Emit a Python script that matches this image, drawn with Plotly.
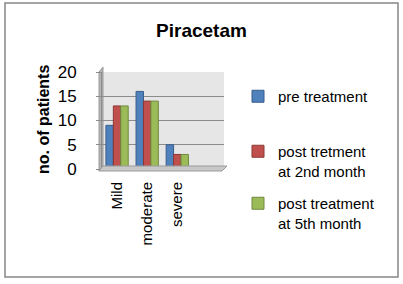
import plotly.graph_objects as go

categories = ["Mild", "moderate", "severe"]
pre_treatment = [9, 16, 5]
post_2nd_month = [13, 14, 3]
post_5th_month = [13, 14, 3]
series_names = ["pre treatment", "post tretment<br>at 2nd month", "post treatment<br>at 5th month"]
y_ticks = [0, 5, 10, 15, 20]

W, H = 403, 284
L, R, T, B = 102, 224, 72, 169


def px(x):
    return (x - L) / (R - L)


def py(y):
    return (B - y) / (B - T)


fill = ["#4f81bd", "#c0504d", "#9bbb59"]
edge = ["#385d8a", "#8c3836", "#71893f"]
values = [pre_treatment, post_2nd_month, post_5th_month]
legend_tops = [80, 135, 187]

fig = go.Figure()
for i, (name, vals) in enumerate(zip(series_names, values)):
    lg = "legend" if i == 0 else f"legend{i+1}"
    fig.add_trace(go.Bar(
        x=categories, y=vals, name=name,
        marker=dict(color=fill[i], line=dict(color=edge[i], width=1)),
        legend=lg,
    ))

font = "Liberation Sans"
legend_common = dict(
    xref="container", yref="container", xanchor="left", yanchor="top",
    bgcolor="rgba(0,0,0,0)", font=dict(family=font, size=15, color="#000"),
    itemwidth=30, tracegroupgap=0, valign="top",
)
layout_legends = {}
for i, top in enumerate(legend_tops):
    key = "legend" if i == 0 else f"legend{i+1}"
    layout_legends[key] = dict(legend_common, x=238 / W, y=1 - top / H)

fig.update_layout(
    width=W, height=H,
    margin=dict(l=L, r=W - R, t=T, b=H - B),
    paper_bgcolor="white", plot_bgcolor="#e6e6e6",
    barmode="group", bargap=0.26, bargroupgap=0,
    showlegend=True,
    title=dict(text="<b>Piracetam</b>", x=0.5, xref="container", xanchor="center",
               y=1 - 30 / H, yref="container", yanchor="middle",
               font=dict(family=font, size=19, color="#000")),
    xaxis=dict(type="category", range=[-0.5, 3.55], tickangle=-90,
               tickfont=dict(family=font, size=15, color="#000"),
               showgrid=False, showline=True, linecolor="#a0a0a0",
               ticks="", ticklabelstandoff=6),
    yaxis=dict(range=[0, 20], tickvals=y_ticks, tickfont=dict(family=font, size=17, color="#000"),
               showgrid=True, gridcolor="#8c8c8c", gridwidth=1,
               showline=True, linecolor="#8c8c8c", ticks="outside", ticklen=5,
               tickcolor="#8c8c8c", ticklabelstandoff=16, zeroline=False),
    **layout_legends,
)

fig.add_annotation(text="<b>no. of patients</b>", textangle=-90,
                   x=px(43), y=py(120), xref="paper", yref="paper",
                   xanchor="center", yanchor="middle",
                   showarrow=False, font=dict(family=font, size=16, color="#000"))

# 3D-style floor and side wall
fig.add_shape(type="path", xref="paper", yref="paper",
              path=f"M {px(99)},{py(171)} L {px(222)},{py(171)} L {px(227)},{py(166)} L {px(103)},{py(166)} Z",
              fillcolor="#c8c8c8", line=dict(color="#9a9a9a", width=1), layer="above")
fig.add_shape(type="path", xref="paper", yref="paper",
              path=f"M {px(99)},{py(171)} L {px(99)},{py(72)} L {px(103)},{py(67)} L {px(103)},{py(166)} Z",
              fillcolor="#b4b4b4", line=dict(color="#9a9a9a", width=1), layer="below")

# chart border
fig.add_shape(type="rect", xref="paper", yref="paper",
              x0=px(5), x1=px(398), y0=py(277), y1=py(3),
              line=dict(color="#868686", width=1.5), layer="below")

fig.write_html("out.html", config={"displayModeBar": False},
               post_script="document.body.style.margin='0';")
